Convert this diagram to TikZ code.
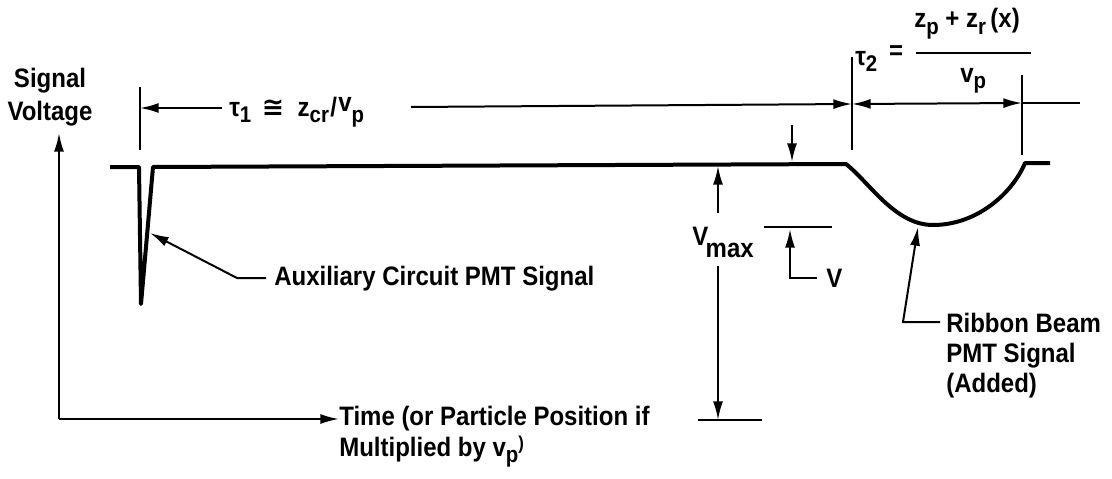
\documentclass[tikz,border=0pt]{standalone}
\usepackage{fontspec}
\setmainfont{Liberation Sans}[FakeStretch=0.9]
\newfontfamily\symfont{DejaVu Sans}
\usetikzlibrary{arrows.meta}
\newcommand\sbs[1]{\raisebox{-0.45ex}{\fontsize{17}{17}\selectfont\bfseries #1}}
\begin{document}
\begin{tikzpicture}[x=0.75pt,y=-0.75pt,
  thinl/.style={line width=1.5pt},
  sig/.style={line width=3pt, line join=round},
  arr/.style={-{Latex[length=14pt,width=7.5pt]}},
  dbl/.style={{Latex[length=14pt,width=7.5pt]}-{Latex[length=14pt,width=7.5pt]}},
  lab/.style={font=\fontsize{20}{20}\selectfont\bfseries, inner sep=0pt},
]
\useasboundingbox (0,0) rectangle (1112,478);

% axes
\coordinate (O) at (59,419);
\coordinate (Ytip) at (59,133);
\node[lab, anchor=base] (sg1) at (50,87) {Signal};
\node[lab, anchor=base] (sg2) at (50,120) {Voltage};
\node[lab, anchor=base west] (time1) at (339,425) {Time (or Particle Position if};
\node[lab, anchor=base west] (time2) at (339,456) {Multiplied by v\sbs{p}\raisebox{0.45ex}{\fontsize{14}{14}\selectfont )}};
\draw[thinl,arr] (O) -- (Ytip);
\draw[thinl,arr] (O) -- (O -| time1.west);

% signal trace
\coordinate (spk) at (150,233);
\coordinate (cmin) at (933,225);
\draw[sig] (110,167) -- (139,167) -- (141,304) -- (153,167) -- (846,164)
  .. controls (870,183) and (895,225) .. (cmin)
  .. controls (978,225) and (1013,192) .. (1025,163) -- (1050,163);

% auxiliary label
\node[lab, anchor=base west] (aux) at (274,285) {Auxiliary Circuit PMT Signal};
\coordinate (auxs) at (266,278);
\coordinate (auxk) at (237,278);
\draw[thinl,arr] (auxs) -- (auxk) -- (spk);

% ribbon label
\node[lab, anchor=base west] (rb1) at (946,332) {Ribbon Beam};
\node[lab, anchor=base west] (rb2) at (946,362) {PMT Signal};
\node[lab, anchor=base west] (rb3) at (946,392) {(Added)};
\coordinate (rbs) at (940,322);
\coordinate (rbk) at (903,322);
\coordinate (rbt) at (918,227);
\draw[thinl,arr] (rbs) -- (rbk) -- (rbt);

% ticks
\coordinate (t1a) at (140,87);  \coordinate (t1b) at (140,150);
\coordinate (t2a) at (852,57);  \coordinate (t2b) at (852,150);
\coordinate (t3a) at (1022,75); \coordinate (t3b) at (1022,155);
\draw[thinl] (t1a) -- (t1b);
\draw[thinl] (t2a) -- (t2b);
\draw[thinl] (t3a) -- (t3b);

% tau1 dimension
\node[lab, anchor=base west] (tau1) at (229,116) {τ\sbs{1}\hspace{8pt}{\symfont ≅}\hspace{10pt}z\sbs{cr}\kern1pt/\kern1pt\raisebox{0.35ex}{v}\sbs{p}};
\coordinate (d1) at (140,108);
\coordinate (d2) at (852,104);
\coordinate (d3) at (1022,103);
\coordinate (d4) at (1080,103);
\draw[thinl,arr] (tau1.west |- d1) ++(-7,0) -- (d1);
\draw[thinl,arr] (411,107) -- (d2);
\draw[thinl,dbl] (d2) -- (d3);
\draw[thinl] (d3) -- (d4);

% tau2 formula
\node[lab, anchor=base west] (tau2) at (855,65) {τ\sbs{2}};
\node[lab] (eq) at (896,53) {=};
\coordinate (fa) at (916,53);
\coordinate (fb) at (1031,53);
\draw[thinl] (fa) -- (fb);
\node[lab, anchor=base west] (num) at (914,28) {z\sbs{p} + z\sbs{r}\,(x)};
\node[lab, anchor=base west] (den) at (960,82) {v\sbs{p}};

% Vmax
\coordinate (vtop) at (718,166);
\coordinate (vbot) at (718,420);
\node[lab] (vmax) at (723,242) {V\kern-2pt\raisebox{-9pt}{max}};
\draw[thinl,arr] (718,213) -- (vtop);
\draw[thinl,arr] (718,266) -- (vbot);
\coordinate (bta) at (698,420); \coordinate (btb) at (762,420);
\draw[thinl] (bta) -- (btb);
\coordinate (dn1) at (792,125); \coordinate (dn2) at (792,162);
\draw[thinl,arr] (dn1) -- (dn2);

% V level
\coordinate (la) at (764,227); \coordinate (lb) at (832,227);
\draw[thinl] (la) -- (lb);
\node[lab, anchor=base west] (vlab) at (826,287) {V};
\coordinate (vk) at (790,278);
\coordinate (vs) at (817,278);
\draw[thinl,arr] (vs) -- (vk) -- (790,229);
\end{tikzpicture}
\end{document}
